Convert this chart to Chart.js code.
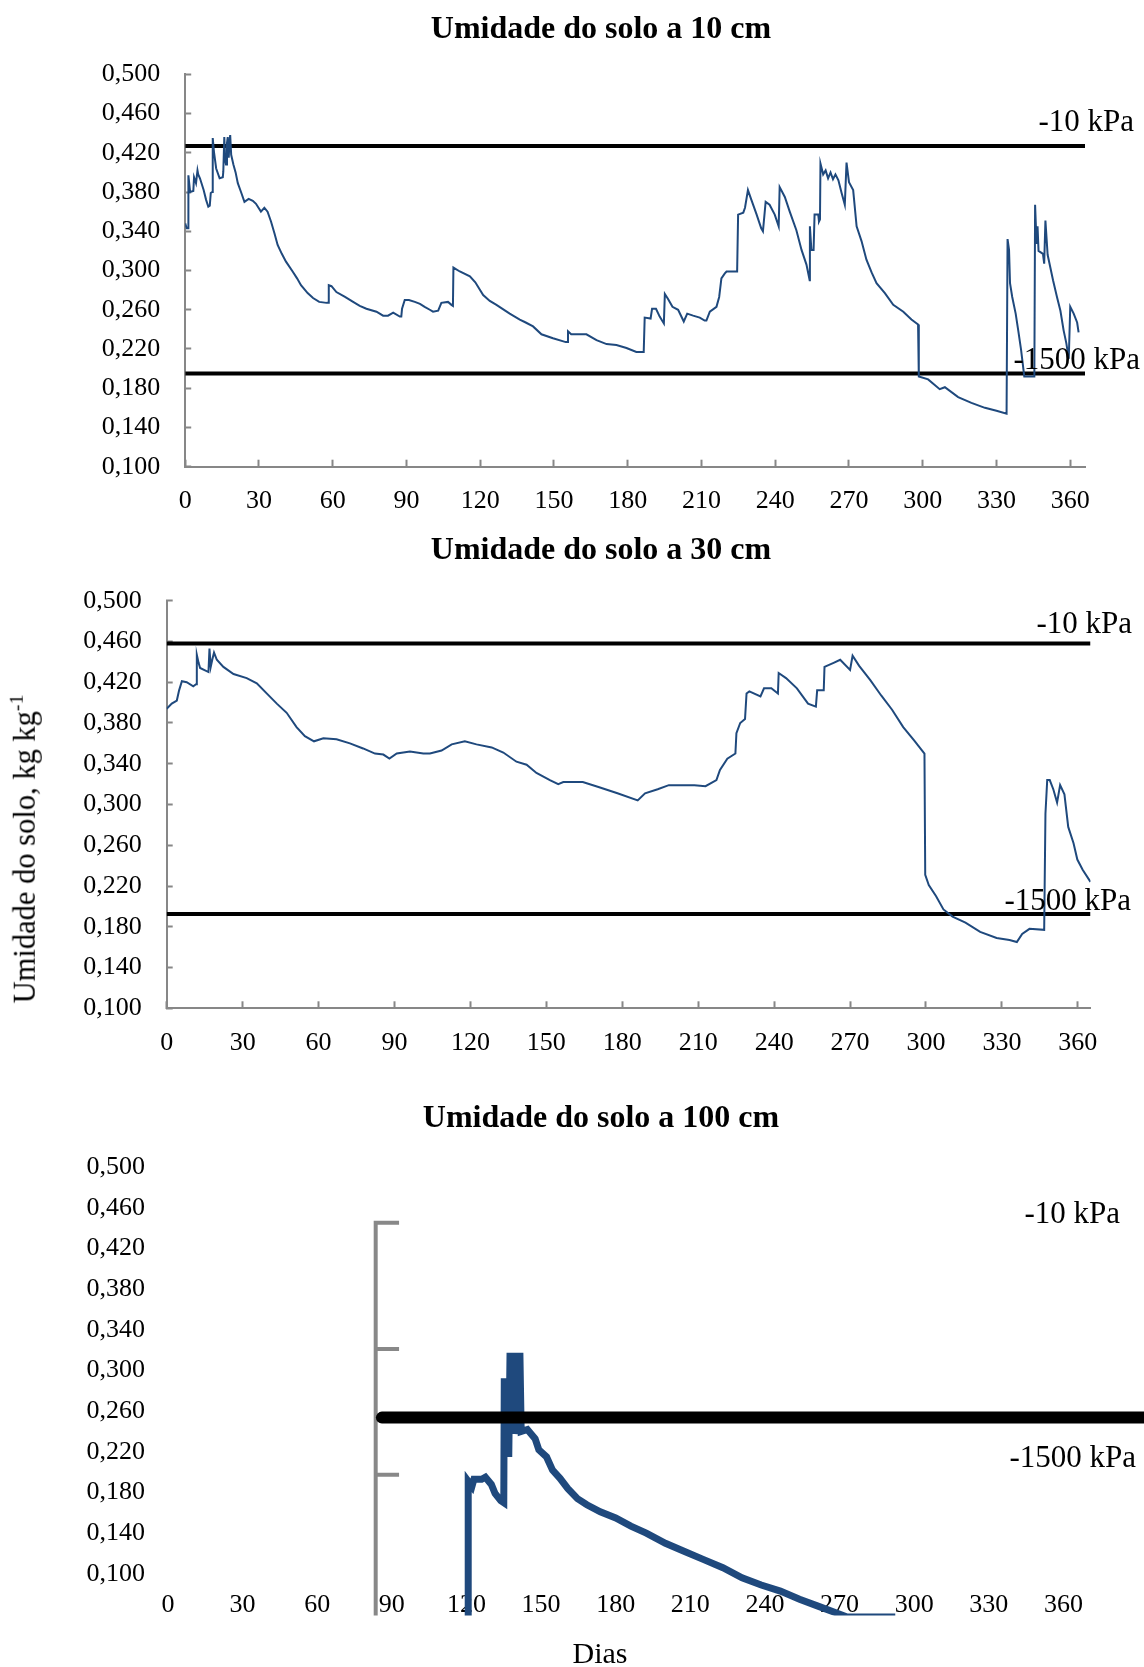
<!DOCTYPE html>
<html lang="pt">
<head>
<meta charset="utf-8">
<title>Umidade do solo</title>
<script src="https://cdn.jsdelivr.net/npm/chart.js@4.4.1/dist/chart.umd.min.js"></script>
<style>
  html, body { margin: 0; padding: 0; background: #fff; }
  body {
    width: 1144px; height: 1667px; position: relative; overflow: hidden;
    font-family: 'Liberation Serif', 'Times New Roman', serif; color: #000;
  }
  canvas { position: absolute; left: 0; }
  #g10 { top: 0; }
  #g30 { top: 520px; }
  #g100 { top: 1080px; }
  .titulo {
    position: absolute; left: 601px;
    transform: translate(-50%, -50%);
    font-size: 32px; font-weight: bold; line-height: 1; white-space: nowrap;
  }
  .titulo-y {
    position: absolute; left: 25px; top: 849px;
    transform: translate(-50%, -50%) rotate(-90deg);
    font-size: 30.5px; line-height: 1; white-space: nowrap;
  }
  .titulo-y sup { font-size: 0.65em; line-height: 0; vertical-align: 0.6em; }
  .titulo-x {
    position: absolute; left: 600px; top: 1653px;
    transform: translate(-50%, -50%);
    font-size: 30px; line-height: 1; white-space: nowrap;
  }
</style>
</head>
<body>
<canvas id="g10" width="1144" height="540"></canvas>
<canvas id="g30" width="1144" height="540"></canvas>
<canvas id="g100" width="1144" height="587"></canvas>
<div class="titulo" style="top: 27px;">Umidade do solo a 10 cm</div>
<div class="titulo" style="top: 547.6px;">Umidade do solo a 30 cm</div>
<div class="titulo" style="top: 1115.5px;">Umidade do solo a 100 cm</div>
<div class="titulo-y">Umidade do solo, kg kg<sup>-1</sup></div>
<div class="titulo-x">Dias</div>

<script>
// eixos
const ticksDias = [0, 30, 60, 90, 120, 150, 180, 210, 240, 270, 300, 330, 360];
const ticksUmidade = [0.100, 0.140, 0.180, 0.220, 0.260, 0.300, 0.340, 0.380, 0.420, 0.460, 0.500];

// umidade a 10 cm
const dias10 = [0, 0.6, 1.2, 1.3, 2.0, 3.3, 3.6, 4.4, 5.0, 5.3, 6.0, 7.5, 8.5, 9.4, 10.0, 10.4, 11.0, 11.2, 11.7, 12.6,
  14.0, 15.3, 15.5, 15.9, 16.3, 16.6, 17.0, 17.3, 17.7, 18.0, 18.3, 18.7, 19.6, 20.5, 21.4, 22.7, 24.1, 25.8, 27.5, 28.8,
  30.8, 32.2, 33.5, 34.9, 36.3, 37.6, 39.3, 41.0, 43.7, 45.5, 47.1, 49.8, 52.0, 54.5, 57.5, 58.2, 58.4, 59.5, 61.5, 65.0,
  68.3, 71.0, 73.7, 77.8, 80.5, 82.5, 84.6, 87.3, 87.9, 88.2, 89.3, 91.0, 93.4, 95.5, 97.4, 99.5, 100.8, 102.9, 104.2, 106.9,
  108.3, 108.9, 109.1, 111.7, 115.8, 118.0, 121.2, 123.9, 126.6, 132.0, 136.1, 138.5, 141.5, 144.9, 149.6, 154.8, 155.4, 155.7, 157.0, 163.2,
  167.3, 171.4, 175.4, 179.5, 183.5, 186.5, 186.9, 189.3, 189.9, 191.5, 193.0, 194.7, 195.1, 196.4, 198.2, 200.5, 202.8, 204.2, 206.6, 209.3,
  211.3, 212.0, 213.4, 216.1, 217.2, 218.1, 219.5, 220.2, 224.5, 224.9, 227.0, 227.7, 228.9, 230.3, 232.3, 234.3, 235.0, 236.1, 237.7, 239.8,
  241.4, 241.8, 243.9, 245.9, 248.6, 250.7, 252.7, 254.0, 254.1, 254.7, 255.6, 256.0, 257.5, 257.8, 258.2, 258.4, 259.5, 260.5, 261.5, 262.5,
  263.5, 264.5, 265.7, 267.0, 268.3, 269.0, 270.0, 271.7, 273.1, 275.1, 277.1, 279.2, 281.2, 284.6, 288.0, 292.1, 295.4, 298.1, 298.4, 302.2,
  306.9, 309.0, 314.4, 319.8, 325.3, 330.0, 334.1, 334.5, 335.1, 335.5, 336.4, 337.8, 338.9, 340.0, 341.3, 345.4, 345.7, 346.3, 346.7, 347.1,
  348.9, 349.4, 349.9, 350.8, 353.0, 354.6, 356.0, 357.3, 358.4, 359.4, 360.0, 361.4, 362.8, 363.4];
const umidade10 = [0.348, 0.343, 0.343, 0.397, 0.380, 0.381, 0.395, 0.389, 0.402, 0.398, 0.394, 0.382, 0.372, 0.365, 0.366, 0.379, 0.380, 0.435, 0.421, 0.404,
  0.394, 0.395, 0.401, 0.436, 0.412, 0.408, 0.430, 0.436, 0.415, 0.430, 0.438, 0.418, 0.408, 0.400, 0.389, 0.380, 0.370, 0.373, 0.371, 0.368,
  0.360, 0.364, 0.360, 0.350, 0.338, 0.326, 0.317, 0.309, 0.299, 0.292, 0.285, 0.277, 0.272, 0.268, 0.267, 0.267, 0.285, 0.284, 0.278, 0.273,
  0.268, 0.264, 0.261, 0.258, 0.254, 0.254, 0.257, 0.253, 0.253, 0.261, 0.270, 0.270, 0.268, 0.266, 0.263, 0.260, 0.258, 0.259, 0.267, 0.268,
  0.265, 0.264, 0.303, 0.299, 0.294, 0.288, 0.275, 0.269, 0.265, 0.256, 0.250, 0.247, 0.243, 0.235, 0.231, 0.227, 0.227, 0.238, 0.235, 0.235,
  0.229, 0.225, 0.224, 0.221, 0.217, 0.217, 0.252, 0.251, 0.261, 0.261, 0.253, 0.246, 0.276, 0.271, 0.263, 0.260, 0.248, 0.256, 0.254, 0.252,
  0.249, 0.249, 0.258, 0.263, 0.273, 0.292, 0.297, 0.299, 0.299, 0.357, 0.359, 0.364, 0.382, 0.372, 0.358, 0.343, 0.340, 0.370, 0.367, 0.357,
  0.345, 0.385, 0.375, 0.360, 0.341, 0.321, 0.306, 0.290, 0.345, 0.321, 0.321, 0.357, 0.357, 0.350, 0.352, 0.409, 0.398, 0.402, 0.394, 0.400,
  0.393, 0.398, 0.392, 0.379, 0.367, 0.410, 0.390, 0.382, 0.345, 0.330, 0.311, 0.298, 0.287, 0.277, 0.265, 0.258, 0.250, 0.245, 0.192, 0.189,
  0.179, 0.181, 0.171, 0.165, 0.160, 0.157, 0.154, 0.332, 0.321, 0.287, 0.273, 0.256, 0.238, 0.219, 0.192, 0.192, 0.367, 0.327, 0.345, 0.320,
  0.317, 0.307, 0.351, 0.316, 0.290, 0.273, 0.259, 0.239, 0.226, 0.210, 0.263, 0.256, 0.247, 0.237];

// umidade a 30 cm
const dias30 = [0, 2.0, 4.0, 4.9, 6.0, 7.9, 10.5, 11.6, 11.9, 12.6, 13.2, 16.5, 16.9, 17.4, 18.0, 18.7, 19.8, 22.4, 26.4, 31.6,
  35.6, 39.5, 43.5, 47.4, 51.3, 54.6, 58.2, 61.9, 67.1, 72.4, 77.6, 82.3, 85.6, 88.0, 90.9, 96.1, 101.4, 104.0, 108.6, 112.6,
  117.8, 122.4, 128.4, 133.0, 138.2, 142.2, 146.1, 151.4, 154.7, 156.7, 164.4, 170.9, 178.1, 186.1, 189.0, 194.0, 198.4, 202.7, 208.5, 212.9,
  217.2, 218.6, 221.5, 224.7, 225.1, 226.6, 228.5, 229.1, 230.2, 234.6, 236.0, 238.9, 241.5, 241.8, 244.7, 249.0, 253.4, 256.5, 257.0, 259.6,
  259.9, 263.5, 266.1, 270.0, 271.0, 273.6, 278.0, 282.3, 286.6, 291.0, 295.3, 299.4, 299.7, 301.1, 304.0, 306.9, 310.5, 315.6, 321.4, 327.9,
  333.0, 335.9, 338.0, 340.9, 346.7, 347.2, 347.9, 348.9, 350.3, 351.8, 353.0, 354.7, 356.2, 358.3, 359.8, 361.9, 365.0];
const umidade30 = [0.394, 0.399, 0.402, 0.412, 0.421, 0.420, 0.416, 0.418, 0.447, 0.439, 0.434, 0.430, 0.453, 0.435, 0.442, 0.449, 0.442, 0.435, 0.428, 0.424,
  0.419, 0.409, 0.399, 0.390, 0.376, 0.367, 0.362, 0.365, 0.364, 0.360, 0.355, 0.350, 0.349, 0.345, 0.350, 0.352, 0.350, 0.350, 0.353, 0.359,
  0.362, 0.359, 0.356, 0.351, 0.342, 0.339, 0.331, 0.324, 0.320, 0.322, 0.322, 0.317, 0.311, 0.304, 0.311, 0.315, 0.319, 0.319, 0.319, 0.318,
  0.324, 0.334, 0.345, 0.350, 0.370, 0.380, 0.384, 0.409, 0.411, 0.406, 0.414, 0.414, 0.409, 0.429, 0.424, 0.414, 0.399, 0.396, 0.412, 0.412,
  0.435, 0.439, 0.442, 0.432, 0.446, 0.436, 0.422, 0.407, 0.393, 0.376, 0.363, 0.350, 0.231, 0.221, 0.210, 0.197, 0.190, 0.184, 0.175, 0.169,
  0.167, 0.165, 0.173, 0.178, 0.177, 0.291, 0.324, 0.324, 0.315, 0.302, 0.319, 0.310, 0.278, 0.262, 0.246, 0.236, 0.224];

// umidade a 100 cm
const dias100 = [120.7, 120.7, 122.2, 123.0, 126.1, 127.6, 130.0, 131.5, 133.8, 135.0, 135.2, 136.6, 137.0, 137.5, 138.6, 139.2, 140.0, 140.3, 141.5, 142.0,
  144.5, 147.6, 149.1, 152.2, 154.6, 157.6, 160.7, 164.6, 168.4, 173.8, 180.0, 186.1, 192.3, 200.0, 207.7, 215.4, 223.1, 230.8, 238.5, 246.2,
  253.9, 261.6, 269.3, 273.0, 292.4];
const umidade100 = [0.040, 0.191, 0.186, 0.193, 0.193, 0.195, 0.188, 0.179, 0.172, 0.170, 0.289, 0.289, 0.215, 0.314, 0.314, 0.238, 0.250, 0.314, 0.314, 0.240,
  0.242, 0.233, 0.222, 0.215, 0.202, 0.194, 0.184, 0.174, 0.168, 0.161, 0.155, 0.147, 0.140, 0.130, 0.122, 0.114, 0.106, 0.096, 0.089, 0.083,
  0.075, 0.068, 0.061, 0.0575, 0.0575];

// limites de retenção (-10 kPa e -1500 kPa)
const limite10kPa = [0.427, 0.458];
const limite1500kPa = [0.195, 0.1925, 0.2537];
const diasLimite100 = [86, 400];

// eixo secundário solto no gráfico de 100 cm
const diasEixo100 = [83.5, 92.9];
const marcasEixo100 = [0.4455, 0.3213, 0.1974];

const fonte = "'Liberation Serif', 'Times New Roman', serif";
const corSerie = '#1f497d';
const corEixo = '#878787';
Chart.defaults.font.family = fonte;
Chart.defaults.color = '#000';

function pontos(dias, valores) {
  return dias.map((d, i) => ({ x: d, y: valores[i] }));
}

function linhaLimite(valor, xmin, xmax, largura) {
  return {
    data: [{ x: xmin, y: valor }, { x: xmax, y: valor }],
    borderColor: '#000', borderWidth: largura, order: 1
  };
}

// textos "-10 kPa" / "-1500 kPa" junto das linhas
const rotulosKpa = {
  id: 'rotulosKpa',
  afterDraw(chart, args, opts) {
    const ctx = chart.ctx;
    ctx.save();
    ctx.font = '31px ' + fonte;
    ctx.fillStyle = '#000';
    ctx.textAlign = 'right';
    ctx.textBaseline = 'middle';
    (opts.itens || []).forEach(r => ctx.fillText(r.texto, r.x, r.y));
    ctx.restore();
  }
};

const fmtUmidade = v => Number(v).toFixed(3).replace('.', ',');

function grafico(id, cfg) {
  const eixos = cfg.eixos;
  const eixoX = {
    type: 'linear',
    min: 0,
    max: cfg.diaMax,
    afterBuildTicks: s => { s.ticks = ticksDias.map(v => ({ value: v })); },
    border: { display: eixos, color: corEixo, width: 2 },
    grid: { display: eixos, drawOnChartArea: false, drawTicks: eixos, tickLength: eixos ? -7 : 0, tickWidth: 2, tickColor: corEixo },
    ticks: { font: { family: fonte, size: 26 }, color: '#000', padding: cfg.padX, autoSkip: false, maxRotation: 0 }
  };
  if (cfg.posicaoX) {
    eixoX.position = cfg.posicaoX;
  } else {
    eixoX.afterFit = s => { s.height = cfg.alturaX; };
  }
  return new Chart(document.getElementById(id), {
    type: 'line',
    data: { datasets: cfg.datasets },
    plugins: [rotulosKpa],
    options: {
      responsive: false,
      animation: false,
      devicePixelRatio: 1,
      layout: { padding: cfg.margem },
      elements: { point: { radius: 0 }, line: { tension: 0 } },
      plugins: {
        legend: { display: false },
        tooltip: { enabled: false },
        title: { display: false },
        rotulosKpa: { itens: cfg.rotulos }
      },
      scales: {
        x: eixoX,
        y: {
          min: cfg.yMin,
          max: 0.5,
          afterBuildTicks: s => { s.ticks = ticksUmidade.map(v => ({ value: v })); },
          afterFit: s => { s.width = cfg.larguraY; },
          border: { display: eixos, color: corEixo, width: 2 },
          grid: { display: eixos, drawOnChartArea: false, drawTicks: eixos, tickLength: eixos ? -6 : 0, tickWidth: 2, tickColor: corEixo },
          ticks: { font: { family: fonte, size: 26 }, color: '#000', padding: cfg.padY, callback: fmtUmidade }
        }
      }
    }
  });
}

grafico('g10', {
  eixos: true, diaMax: 366, yMin: 0.1,
  margem: { left: 0, right: 59, top: 74.3, bottom: 0 },
  alturaX: 73.3, larguraY: 185.2, padX: 26, padY: 31,
  rotulos: [
    { texto: '-10 kPa', x: 1134, y: 123 },
    { texto: '-1500 kPa', x: 1140, y: 361 }
  ],
  datasets: [
    { data: pontos(dias10, umidade10), borderColor: corSerie, borderWidth: 2, order: 0 },
    linhaLimite(limite10kPa[0], 0, 366, 4),
    linhaLimite(limite1500kPa[0], 0, 366, 4)
  ]
});

grafico('g30', {
  eixos: true, diaMax: 365, yMin: 0.1,
  margem: { left: 0, right: 53.5, top: 80.7, bottom: 0 },
  alturaX: 51.7, larguraY: 166.7, padX: 26, padY: 31,
  rotulos: [
    { texto: '-10 kPa', x: 1132, y: 105 },
    { texto: '-1500 kPa', x: 1131, y: 382 }
  ],
  datasets: [
    { data: pontos(dias30, umidade30), borderColor: corSerie, borderWidth: 2, order: 0 },
    linhaLimite(limite10kPa[1], 0, 365, 4),
    linhaLimite(limite1500kPa[1], 0, 365, 4)
  ]
});

// traços do eixo secundário: vertical com três marcas
const eixo100 = [
  { x: diasEixo100[1], y: marcasEixo100[0] },
  { x: diasEixo100[0], y: marcasEixo100[0] },
  { x: diasEixo100[0], y: 0.04 },
  { x: diasEixo100[0], y: null },
  { x: diasEixo100[0], y: marcasEixo100[1] },
  { x: diasEixo100[1], y: marcasEixo100[1] },
  { x: diasEixo100[1], y: null },
  { x: diasEixo100[0], y: marcasEixo100[2] },
  { x: diasEixo100[1], y: marcasEixo100[2] }
];

// no gráfico de 100 cm os rótulos dos dias ficam dentro da área de plotagem
grafico('g100', {
  eixos: false, diaMax: 392.4, yMin: 0.059,
  margem: { left: 0, right: 0, top: 87.3, bottom: 51.5 },
  posicaoX: { y: 0.1 }, larguraY: 168, padX: 15.4, padY: 23,
  rotulos: [
    { texto: '-10 kPa', x: 1120, y: 135 },
    { texto: '-1500 kPa', x: 1136, y: 379 }
  ],
  datasets: [
    { data: pontos(dias100, umidade100), borderColor: corSerie, borderWidth: 7, clip: 0, order: 2 },
    { data: eixo100, borderColor: '#888888', borderWidth: 4, borderJoinStyle: 'miter', clip: 0, order: 1 },
    {
      data: [{ x: diasLimite100[0], y: limite1500kPa[2] }, { x: diasLimite100[1], y: limite1500kPa[2] }],
      borderColor: '#000', borderWidth: 12, borderCapStyle: 'round', order: 0
    }
  ]
});
</script>
</body>
</html>
